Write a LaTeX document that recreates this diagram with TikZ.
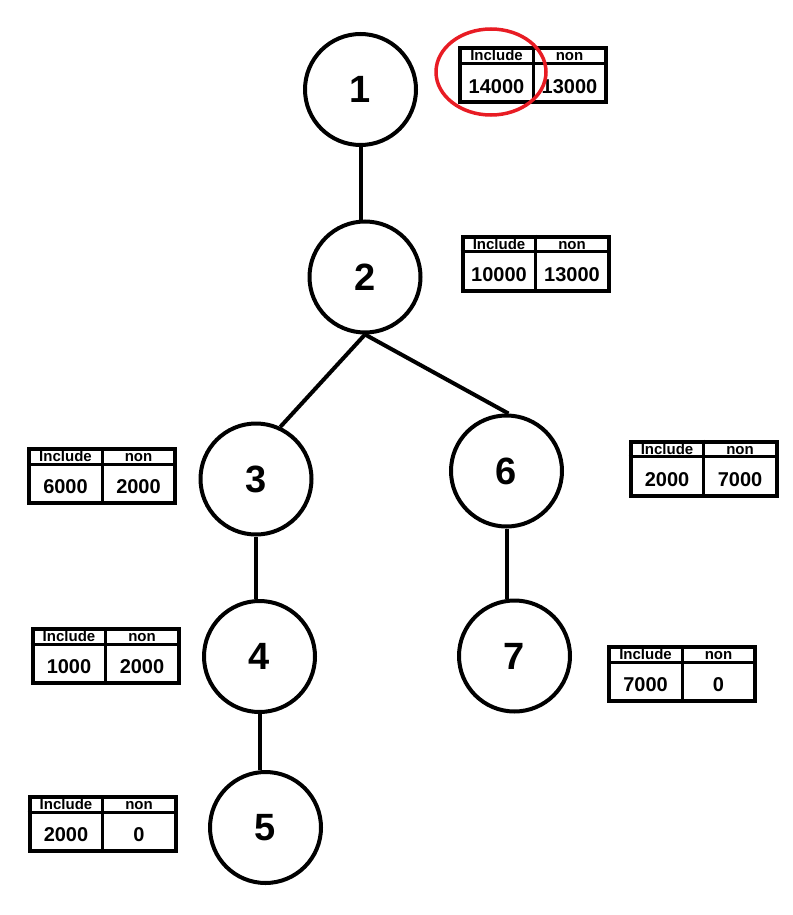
\documentclass[tikz,border=0pt]{standalone}
\usepackage{fontspec}
\setmainfont{Liberation Sans}
\usetikzlibrary{positioning}
\definecolor{ringred}{RGB}{232,28,36}
\tikzset{vertex/.style={circle,draw=black,fill=white,line width=4pt,inner sep=0pt,
minimum size=111pt,font=\fontsize{38}{38}\selectfont\bfseries},
valbox/.style={rectangle,draw=black,line width=4pt,minimum width=146pt,
minimum height=54pt,inner sep=0pt},
valrule/.style={line width=3pt},
head/.style={inner sep=0pt,text height=11pt,text depth=0pt,
font=\fontsize{15}{15}\selectfont\bfseries},
val/.style={inner sep=0pt,text height=14.5pt,text depth=0pt,
font=\fontsize{20}{20}\selectfont\bfseries},
link/.style={line width=4pt},
ring/.style={draw=ringred,line width=3.5pt}}

% table beside a vertex: name, x, y, include, non
\newcommand{\valtable}[5]{%
  \node (#1) [valbox] at (#2,#3) {};
  \draw [valrule] ([yshift=-17pt]#1.north west) -- ([yshift=-17pt]#1.north east);
  \draw [valrule] (#1.north) -- (#1.south);
  \node (#1inc) [head] at ([xshift=-36.5pt,yshift=-9pt]#1.north) {Include};
  \node (#1non) [head] at ([xshift=36.5pt,yshift=-9pt]#1.north) {non};
  \node (#1vi) [val] at ([xshift=-36.5pt,yshift=18.5pt]#1.south) {#4};
  \node (#1vn) [val] at ([xshift=36.5pt,yshift=18.5pt]#1.south) {#5};
}

\begin{document}
\begin{tikzpicture}[x=1pt,y=-1pt]
  \useasboundingbox [fill=white] (0,0) rectangle (792,915);

  \node (n1) [vertex] at (360.5,89.5) {1};
  \node (n2) [vertex] at (365,277) {2};
  \node (n3) [vertex] at (256,479) {3};
  \node (n6) [vertex] at (506.5,471) {6};
  \node (n4) [vertex] at (259.5,656.5) {4};
  \node (n7) [vertex] at (514.5,656) {7};
  \node (n5) [vertex] at (265.5,827.5) {5};

  \draw [link] (n1.south) -- (n1.south |- n2.north);
  \draw [link] (n2.south) -- (n3.65);
  \draw [link] (n2.south) -- (n6.88);
  \draw [link] (n3.south) -- (n3.south |- n4.north);
  \draw [link] (n6.south) -- (n6.south |- n7.north);
  \draw [link] (n4.south) -- (n4.south |- n5.north);

  \valtable{t1}{533}{75.5}{14000}{13000}
  \valtable{t2}{535.5}{263.5}{10000}{13000}
  \valtable{t3}{102}{476}{6000}{2000}
  \valtable{t6}{703.5}{468.5}{2000}{7000}
  \valtable{t4}{105.5}{656}{1000}{2000}
  \valtable{t7}{682}{674}{7000}{0}
  \valtable{t5}{102.5}{824}{2000}{0}

  \draw [ring] (491,72) ellipse [x radius=55, y radius=43];
\end{tikzpicture}
\end{document}
